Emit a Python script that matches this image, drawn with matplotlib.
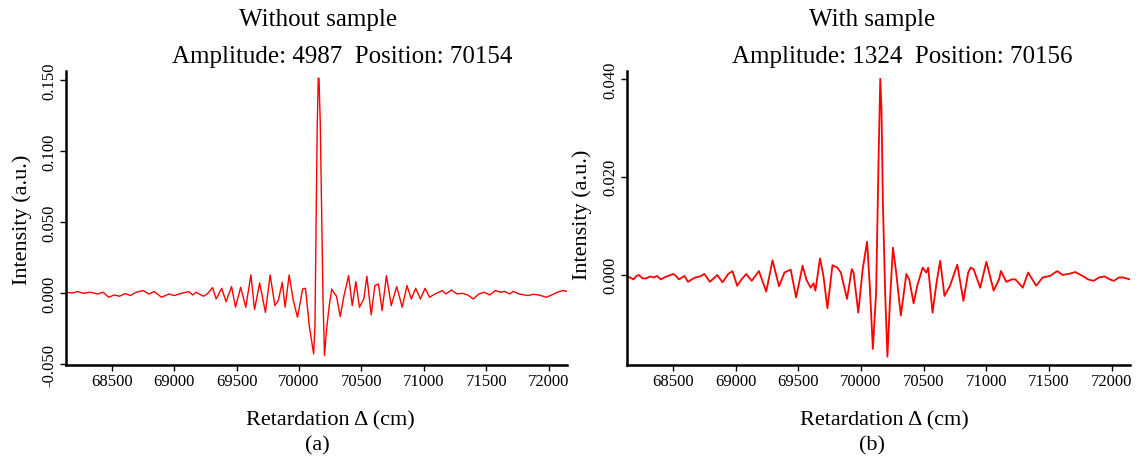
import matplotlib
matplotlib.use("Agg")
import matplotlib.pyplot as plt

plt.rcParams['font.family'] = ['Liberation Serif', 'DejaVu Serif']
plt.rcParams['axes.unicode_minus'] = False

# ---------------- data: without sample ----------------
ret_a = [68135, 68185, 68229, 68272, 68331, 68389, 68433, 68477, 68521, 68564,
         68608, 68652, 68695, 68754, 68798, 68841, 68900, 68958, 69002, 69060,
         69119, 69148, 69177, 69235, 69265, 69308, 69337, 69381, 69416, 69460,
         69492, 69533, 69574, 69615, 69644, 69685, 69731, 69769, 69807, 69834,
         69866, 69889, 69921, 69953, 69988, 70029, 70052, 70082, 70117, 70128,
         70137, 70146, 70154, 70160, 70170, 70180, 70192, 70204, 70221, 70242,
         70262, 70286, 70300, 70330, 70359, 70397, 70426, 70455, 70484, 70519,
         70543, 70578, 70607, 70636, 70665, 70700, 70738, 70782, 70826, 70864,
         70899, 70934, 70972, 71009, 71045, 71089, 71147, 71176, 71220, 71264,
         71307, 71351, 71395, 71439, 71482, 71526, 71570, 71614, 71643, 71687,
         71716, 71760, 71832, 71876, 71920, 71978, 72022, 72066, 72110, 72144]
int_a = [0.0007, 0.0002, 0.0012, 0.0000, 0.0007, -0.0005, 0.0007, -0.0028, -0.0012, -0.0021,
         -0.0002, -0.0016, 0.0007, 0.0019, -0.0005, 0.0012, -0.0028, -0.0005, -0.0016, 0.0000,
         0.0012, -0.0012, 0.0007, -0.0021, -0.0005, 0.0040, -0.0040, 0.0035, -0.0059, 0.0047,
         -0.0098, 0.0042, -0.0098, 0.0129, -0.0115, 0.0073, -0.0134, 0.0129, -0.0087, -0.0052,
         0.0077, -0.0098, 0.0129, -0.0045, -0.0169, 0.0030, 0.0035, -0.0227, -0.0427, -0.0227,
         0.0523, 0.1179, 0.1514, 0.1514, 0.1203, 0.0640, -0.0040, -0.0438, -0.0251, -0.0087,
         0.0030, -0.0005, -0.0021, -0.0164, -0.0021, 0.0124, -0.0087, 0.0082, -0.0098, -0.0040,
         0.0120, -0.0152, 0.0054, 0.0066, -0.0122, 0.0124, -0.0087, 0.0047, -0.0098, 0.0054,
         -0.0040, 0.0035, -0.0040, 0.0035, -0.0028, -0.0005, 0.0019, -0.0005, 0.0023, -0.0005,
         0.0000, -0.0012, -0.0040, -0.0005, 0.0007, -0.0012, 0.0019, 0.0007, 0.0014, -0.0005,
         0.0014, -0.0005, -0.0016, -0.0007, -0.0012, -0.0028, -0.0012, 0.0007, 0.0019, 0.0014]

# ---------------- data: with sample ----------------
ret_b = [68135, 68158, 68187, 68210, 68230, 68259, 68288, 68317, 68346, 68375,
         68404, 68433, 68462, 68506, 68529, 68549, 68593, 68622, 68651, 68680,
         68717, 68752, 68796, 68854, 68897, 68941, 68976, 69013, 69048, 69086,
         69129, 69187, 69245, 69295, 69347, 69390, 69440, 69483, 69535, 69564,
         69599, 69622, 69637, 69674, 69701, 69733, 69773, 69811, 69840, 69889,
         69927, 69941, 69979, 70014, 70049, 70072, 70095, 70121, 70141, 70154,
         70164, 70175, 70193, 70211, 70231, 70255, 70281, 70318, 70362, 70385,
         70420, 70449, 70492, 70521, 70536, 70571, 70603, 70632, 70666, 70710,
         70768, 70817, 70855, 70875, 70898, 70951, 71000, 71058, 71101, 71116,
         71159, 71203, 71232, 71290, 71333, 71397, 71449, 71507, 71565, 71609,
         71652, 71710, 71768, 71811, 71855, 71898, 71942, 71985, 72015, 72058,
         72087, 72145]
int_b = [-0.0003, -0.0006, -0.0010, -0.0003, -0.0001, -0.0008, -0.0008, -0.0004, -0.0006, -0.0003,
         -0.0010, -0.0006, -0.0003, 0.0001, -0.0004, -0.0010, -0.0003, -0.0015, -0.0010, -0.0006,
         -0.0004, 0.0001, -0.0015, -0.0001, -0.0016, 0.0001, 0.0007, -0.0023, -0.0010, 0.0001,
         -0.0013, 0.0007, -0.0035, 0.0029, -0.0024, 0.0004, 0.0010, -0.0047, 0.0018, -0.0010,
         -0.0027, -0.0018, -0.0033, 0.0033, -0.0003, -0.0069, 0.0019, 0.0014, 0.0004, -0.0050,
         0.0011, 0.0004, -0.0078, 0.0011, 0.0067, -0.0030, -0.0152, -0.0037, 0.0242, 0.0400,
         0.0337, 0.0147, -0.0037, -0.0168, -0.0057, 0.0055, 0.0004, -0.0084, 0.0001, -0.0010,
         -0.0059, -0.0023, 0.0014, 0.0004, 0.0014, -0.0078, -0.0016, 0.0028, -0.0044, -0.0023,
         0.0020, -0.0054, 0.0004, 0.0014, 0.0011, -0.0027, 0.0026, -0.0033, -0.0010, 0.0007,
         -0.0015, -0.0010, -0.0010, -0.0027, 0.0004, -0.0023, -0.0006, -0.0003, 0.0007, -0.0001,
         0.0001, 0.0005, -0.0003, -0.0010, -0.0013, -0.0006, -0.0004, -0.0010, -0.0013, -0.0006,
         -0.0006, -0.0010]

xticks = [68500, 69000, 69500, 70000, 70500, 71000, 71500, 72000]
yticks_a = [-0.050, 0.000, 0.050, 0.100, 0.150]
yticks_b = [0.000, 0.020, 0.040]
titles = ["Without sample", "With sample"]
subtitles = ["Amplitude: 4987  Position: 70154", "Amplitude: 1324  Position: 70156"]
panel_tags = ["(a)", "(b)"]

W, H = 1139, 460
fig = plt.figure(figsize=(W / 100, H / 100), dpi=100)


def fx(px):
    return px / W


def fy(py):
    return 1 - py / H


def style(ax, yticks, ylim):
    ax.set_xlim(68135, 72145)
    ax.set_ylim(*ylim)
    for s in ['top', 'right']:
        ax.spines[s].set_visible(False)
    for s in ['left', 'bottom']:
        ax.spines[s].set_linewidth(1.8)
    ax.set_xticks(xticks)
    ax.set_xticklabels([str(v) for v in xticks])
    ax.set_yticks(yticks)
    ax.set_yticklabels(["%.3f" % v for v in yticks], rotation=90, va='center')
    ax.tick_params(direction='out', length=4, width=1, labelsize=12, pad=2)


axA = fig.add_axes([fx(66), fy(366), fx(567 - 66), (366 - 72) / H])
axA.plot(ret_a, int_a, color='#ff0000', lw=1.0)
style(axA, yticks_a, (-0.0505, 0.1565))

axB = fig.add_axes([fx(627), fy(366), fx(1130 - 627), (366 - 72) / H])
axB.plot(ret_b, int_b, color='#ff0000', lw=1.3)
style(axB, yticks_b, (-0.0185, 0.0416))

# titles and labels
fig.text(fx(318), fy(20), titles[0], ha='center', va='center', fontsize=18)
fig.text(fx(342), fy(57), subtitles[0], ha='center', va='center', fontsize=18)
fig.text(fx(872), fy(20), titles[1], ha='center', va='center', fontsize=18)
fig.text(fx(902), fy(57), subtitles[1], ha='center', va='center', fontsize=18)

fig.text(fx(330), fy(421), "Retardation \u0394 (cm)", ha='center', va='center', fontsize=16)
fig.text(fx(884), fy(421), "Retardation \u0394 (cm)", ha='center', va='center', fontsize=16)
fig.text(fx(317), fy(446), panel_tags[0], ha='center', va='center', fontsize=16)
fig.text(fx(872), fy(446), panel_tags[1], ha='center', va='center', fontsize=16)

fig.text(fx(22), fy(220), "Intensity (a.u.)", ha='center', va='center', rotation=90, fontsize=16)
fig.text(fx(582), fy(215), "Intensity (a.u.)", ha='center', va='center', rotation=90, fontsize=16)

fig.savefig("out.png", dpi=100)
